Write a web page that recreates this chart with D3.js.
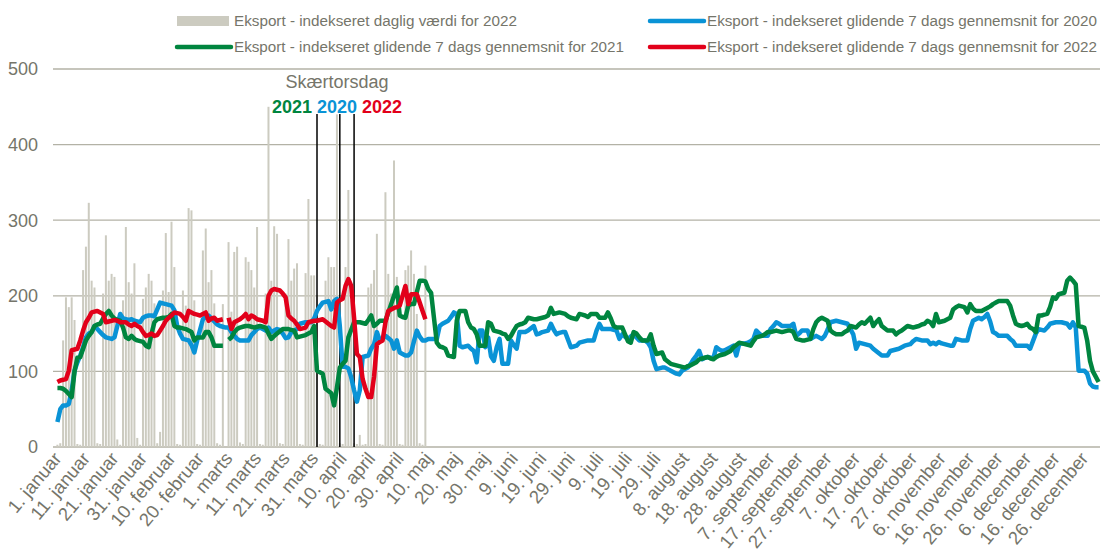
<!DOCTYPE html>
<html>
<head>
<meta charset="utf-8">
<script src="https://cdn.jsdelivr.net/npm/d3@7"></script>
<style>
  body { margin: 0; background: #fff; }
  svg { display: block; font-family: "Liberation Sans", Arial, sans-serif; }
</style>
</head>
<body>
<div id="chart"></div>
<script>
// Daily export index, 2022 daily bars + 7 day moving averages for 2020-2022
// x positions follow a 2020 (leap year) calendar, day 0 = 1. januar

const blue2020 = [
  33, 50, 55, 55, 57, 75, 101, 112, 121, 132,
  145, 150, 152, 160, 156, 152, 148, 145, 144, 143,
  145, 160, 176, 170, 169, 168, 169, 167, 166, 165,
  171, 173, 174, 174, 173, 182, 191, 190, 189, 188,
  187, 181, 160, 150, 143, 142, 141, 135, 125, 141,
  155, 169, 172, 174, 170, 166, 162, 160, 159, 158,
  158, 152, 147, 143, 141, 141, 141, 141, 148, 152,
  156, 158, 156, 154, 158, 152, 154, 156, 155, 150,
  144, 145, 152, 154, 156, 163, 164, 165, 165, 165,
  170, 180, 186, 191, 192, 193, 182, 193, 196, 160,
  106, 106, 104, 92, 75, 60, 75, 119, 120, 121,
  130, 136, 152, 141, 144, 147, 144, 141, 130, 141,
  125, 123, 121, 121, 125, 140, 154, 146, 141, 141,
  143, 143, 143, 143, 160, 163, 165, 167, 172, 178,
  176, 134, 132, 133, 134, 130, 127, 112, 154, 154,
  132, 145, 120, 114, 132, 143, 110, 110, 110, 141,
  135, 130, 152, 152, 152, 154, 157, 160, 149, 150,
  152, 153, 154, 163, 155, 149, 151, 152, 152, 142,
  132, 133, 134, 138, 139, 140, 141, 141, 141, 154,
  163, 156, 156, 156, 156, 155, 154, 143, 149, 146,
  143, 146, 149, 145, 141, 141, 141, 138, 132, 114,
  103, 104, 105, 105, 103, 101, 99, 97, 96, 101,
  103, 105, 110, 116, 121, 127, 116, 118, 119, 118,
  118, 132, 129, 127, 128, 130, 132, 134, 121, 136,
  137, 137, 138, 140, 143, 154, 150, 147, 147, 147,
  156, 160, 165, 163, 160, 160, 160, 160, 163, 147,
  150, 154, 154, 154, 143, 145, 147, 145, 143, 147,
  155, 165, 166, 167, 166, 165, 164, 163, 156, 149,
  130, 138, 137, 136, 135, 134, 130, 127, 124, 121,
  121, 121, 127, 128, 129, 130, 132, 134, 135, 136,
  140, 143, 142, 141, 141, 141, 136, 138, 136, 139,
  137, 136, 135, 134, 134, 143, 142, 141, 141, 141,
  156, 167, 169, 171, 169, 172, 176, 166, 152, 150,
  147, 147, 147, 147, 143, 140, 134, 134, 134, 134,
  134, 130, 140, 150, 156, 155, 154, 158, 163, 164,
  165, 165, 165, 164, 163, 158, 165, 158, 101, 101,
  101, 97, 84, 80, 79, 79
];

const green2021 = [
  78, 78, 77, 74, 70, 66, 100, 118, 119, 130,
  141, 147, 152, 160, 162, 163, 170, 176, 180, 174,
  170, 168, 167, 158, 145, 143, 147, 143, 141, 140,
  139, 134, 132, 150, 165, 169, 170, 171, 171, 172,
  176, 160, 158, 158, 157, 156, 154, 152, 141, 145,
  145, 145, 152, 152, 145, 134, 134, 134, 134, null,
  142, 145, 152, 156, 158, 159, 160, 160, 159, 158,
  159, 160, 159, 158, 150, 143, 147, 150, 153, 156,
  156, 156, 155, 154, 145, 146, 147, 148, 150, 152,
  160, 101, 99, 97, 77, 74, 71, 55, 79, 105,
  110, 114, 145, 155, 165, 165, 165, 164, 163, 168,
  174, 160, 163, 167, 167, 167, 178, 189, 200, 211,
  174, 172, 171, 187, 189, 189, 205, 220, 220, 219,
  209, 204, 171, 138, 133, 132, 130, 121, 120, 119,
  167, 180, 180, 180, 165, 158, 156, 149, 134, 134,
  134, 165, 163, 154, 153, 152, 150, 149, 143, 147,
  154, 160, 162, 163, 165, 171, 170, 169, 169, 170,
  171, 172, 174, 184, 176, 177, 178, 177, 176, 173,
  171, 170, 169, 176, 175, 174, 172, 176, 176, 176,
  171, 171, 171, 178, 170, 160, 158, 158, 158, 149,
  140, 138, 152, 150, 145, 141, 141, 141, 149, 134,
  123, 124, 125, 116, 113, 110, 109, 108, 107, 106,
  105, 107, 108, 110, 112, 116, 117, 118, 119, 117,
  116, 119, 121, 122, 123, 125, 127, 132, 135, 138,
  137, 136, 135, 134, 140, 145, 146, 147, 149, 152,
  152, 153, 154, 153, 152, 153, 154, 154, 152, 143,
  142, 141, 141, 142, 143, 156, 165, 169, 171, 169,
  167, 154, 151, 149, 149, 149, 152, 154, 160, 159,
  158, 162, 165, 163, 167, 171, 160, 165, 169, 160,
  157, 154, 154, 154, 149, 152, 154, 157, 160, 159,
  158, 159, 160, 162, 163, 167, 165, 160, 176, 165,
  166, 167, 169, 171, 182, 185, 187, 186, 185, 178,
  189, 183, 180, 180, 180, 182, 184, 186, 189, 191,
  193, 193, 193, 193, 187, 174, 163, 161, 160, 161,
  163, 158, 156, 152, 174, 174, 175, 176, 185, 198,
  196, 202, 203, 204, 220, 224, 220, 215, 160, 159,
  158, 141, 114, 100, 93, 86
];

const red2022 = [
  86, 88, 89, 90, 101, 128, 129, 130, 141, 154,
  165, 171, 178, 179, 180, 178, 176, 165, 166, 167,
  168, 167, 165, 165, 165, 162, 160, 163, 160, 158,
  152, 147, 148, 150, 147, 148, 154, 160, 167, 171,
  174, 178, 177, 176, 172, 167, 180, 178, 176, 175,
  174, 176, 178, 167, 170, 171, 167, 168, 169, null,
  171, 156, 165, 167, 169, 172, 176, 169, 174, 172,
  169, 168, 167, 165, 200, 207, 209, 208, 207, 203,
  198, 174, 170, 167, 162, 156, 157, 158, 165, 166,
  167, 167, 168, 169, 166, 163, 160, 158, 191, 194,
  196, 213, 222, 213, 171, 123, 119, 90, 77, 66,
  66, 93, 136, 139, 141, 165, 180, 182, 184, 185,
  187, 200, 213, 189, 202, 202, 202, 191, 180, 169
];

const daily2022 = [
  3, 5, 141, 198, 185, 198, 168, 4, 3, 234,
  265, 323, 220, 211, 5, 4, 203, 280, 220, 229,
  225, 10, 3, 194, 291, 218, 203, 243, 12, 3,
  196, 211, 229, 220, 190, 5, 20, 207, 283, 205,
  298, 238, 4, 3, 207, 187, 316, 313, 194, 4,
  3, 260, 289, 218, 234, 190, 5, 3, 189, null,
  271, 179, 258, 265, 6, 4, 251, 245, 234, 211,
  291, 4, 3, 203, 450, 220, 292, 282, 5, 4,
  203, 275, 220, 236, 243, 4, 3, 230, 328, 227,
  227, 200, 4, 3, 220, 251, 238, 238, 440, 5,
  4, 238, 340, 194, 5, 4, 16, 3, 4, 211,
  216, 234, 282, 4, 3, 337, 229, 203, 379, 225,
  4, 3, 234, 240, 260, 229, 176, 5, 3, 240
];

// Skærtorsdag (day index in the 2020 calendar) for each year
const easterYears = ["2021", "2020", "2022"];
const easterDays = [91, 99, 104];

const xTickLabels = [
  "1. januar", "11. januar", "21. januar", "31. januar", "10. februar", "20. februar",
  "1. marts", "11. marts", "21. marts", "31. marts", "10. april", "20. april", "30. april",
  "10. maj", "20. maj", "30. maj", "9. juni", "19. juni", "29. juni", "9. juli", "19. juli",
  "29. juli", "8. august", "18. august", "28. august", "7. september", "17. september",
  "27. september", "7. oktober", "17. oktober", "27. oktober", "6. november", "16. november",
  "26. november", "6. december", "16. december", "26. december"
];
const yTicks = [0, 100, 200, 300, 400, 500];

const legendLabels = [
  "Eksport - indekseret daglig værdi for 2022",
  "Eksport - indekseret glidende 7 dags gennemsnit for 2020",
  "Eksport - indekseret glidende 7 dags gennemsnit for 2021",
  "Eksport - indekseret glidende 7 dags gennemsnit for 2022"
];

const textGrey = "#75756a";
const gridGrey = "#b3b2a6";
const barGrey = "#cccbc0";
const colors = { "2020": "#0a93d6", "2021": "#00853f", "2022": "#e2001a" };

const width = 1103, height = 554;

const svg = d3.select("#chart")
  .append("svg")
  .attr("width", width)
  .attr("height", height);

// one band per day of a leap year
const days = d3.range(blue2020.length);
const x = d3.scaleBand()
  .domain(days)
  .range([56, 1100]);

const y = d3.scaleLinear()
  .domain([0, 500])
  .range([447, 69]);

const xc = d => x(d) + x.bandwidth() / 2;

// horizontal grid lines
svg.append("g")
  .selectAll("line")
  .data(yTicks)
  .enter().append("line")
    .attr("x1", 53)
    .attr("x2", 1100)
    .attr("y1", d => y(d))
    .attr("y2", d => y(d))
    .attr("stroke", gridGrey)
    .attr("stroke-width", 1.3);

// y labels
svg.append("g")
  .selectAll("text")
  .data(yTicks)
  .enter().append("text")
    .attr("x", 38)
    .attr("y", d => y(d))
    .attr("dy", "0.35em")
    .attr("text-anchor", "end")
    .style("font-size", "18px")
    .style("fill", textGrey)
    .text(d => d);

// daily bars for 2022
svg.append("g")
  .selectAll("rect")
  .data(daily2022.map((v, i) => ({ day: i, value: v })).filter(d => d.value != null))
  .enter().append("rect")
    .attr("x", d => x(d.day) + 0.4)
    .attr("width", x.bandwidth() * 0.7)
    .attr("y", d => y(d.value))
    .attr("height", d => y(0) - y(d.value))
    .attr("fill", barGrey);

// x labels, angled
svg.append("g")
  .selectAll("text")
  .data(xTickLabels)
  .enter().append("text")
    .attr("transform", (d, i) => `translate(${xc(i * 10) + 5},${459}) rotate(-50)`)
    .attr("text-anchor", "end")
    .style("font-size", "18.5px")
    .style("fill", textGrey)
    .text(d => d);

// Skærtorsdag markers
svg.append("g")
  .selectAll("line")
  .data(easterDays)
  .enter().append("line")
    .attr("x1", d => xc(d))
    .attr("x2", d => xc(d))
    .attr("y1", 114)
    .attr("y2", y(0))
    .attr("stroke", "#000")
    .attr("stroke-width", 1.5);

svg.append("text")
  .attr("x", 337)
  .attr("y", 88)
  .attr("text-anchor", "middle")
  .style("font-size", "18px")
  .style("fill", textGrey)
  .text("Skærtorsdag");

const yearLabel = svg.append("text")
  .attr("x", 337)
  .attr("y", 113)
  .attr("text-anchor", "middle")
  .style("font-size", "18px")
  .style("font-weight", "bold");
easterYears.forEach((yr, i) => {
  yearLabel.append("tspan")
    .style("fill", colors[yr])
    .text((i > 0 ? " " : "") + yr);
});

// moving average lines
const line = d3.line()
  .defined(d => d.value != null)
  .x(d => xc(d.day))
  .y(d => y(d.value));

const series = [
  { year: "2020", values: blue2020 },
  { year: "2021", values: green2021 },
  { year: "2022", values: red2022 }
];

svg.append("g")
  .selectAll("path")
  .data(series)
  .enter().append("path")
    .attr("d", s => line(s.values.map((v, i) => ({ day: i, value: v }))))
    .attr("fill", "none")
    .attr("stroke", s => colors[s.year])
    .attr("stroke-width", 4.5)
    .attr("stroke-linejoin", "round");

// legend, two rows by two columns
const legendItems = [
  { label: legendLabels[0], type: "bar", color: barGrey, x: 177, y: 21, w: 283 },
  { label: legendLabels[1], type: "line", color: colors["2020"], x: 650, y: 21, w: 390 },
  { label: legendLabels[2], type: "line", color: colors["2021"], x: 177, y: 47, w: 390 },
  { label: legendLabels[3], type: "line", color: colors["2022"], x: 650, y: 47, w: 390 }
];

const legend = svg.append("g");
legendItems.forEach(item => {
  if (item.type === "bar") {
    legend.append("rect")
      .attr("x", item.x)
      .attr("y", item.y - 5)
      .attr("width", 52)
      .attr("height", 10)
      .attr("fill", item.color);
  } else {
    legend.append("line")
      .attr("x1", item.x)
      .attr("x2", item.x + 54)
      .attr("y1", item.y)
      .attr("y2", item.y)
      .attr("stroke", item.color)
      .attr("stroke-width", 4.5)
      .attr("stroke-linecap", "round");
  }
  legend.append("text")
    .attr("x", item.x + 57)
    .attr("y", item.y)
    .attr("dy", "0.35em")
    .attr("textLength", item.w)
    .attr("lengthAdjust", "spacingAndGlyphs")
    .style("font-size", "15.2px")
    .style("fill", textGrey)
    .text(item.label);
});
</script>
</body>
</html>
